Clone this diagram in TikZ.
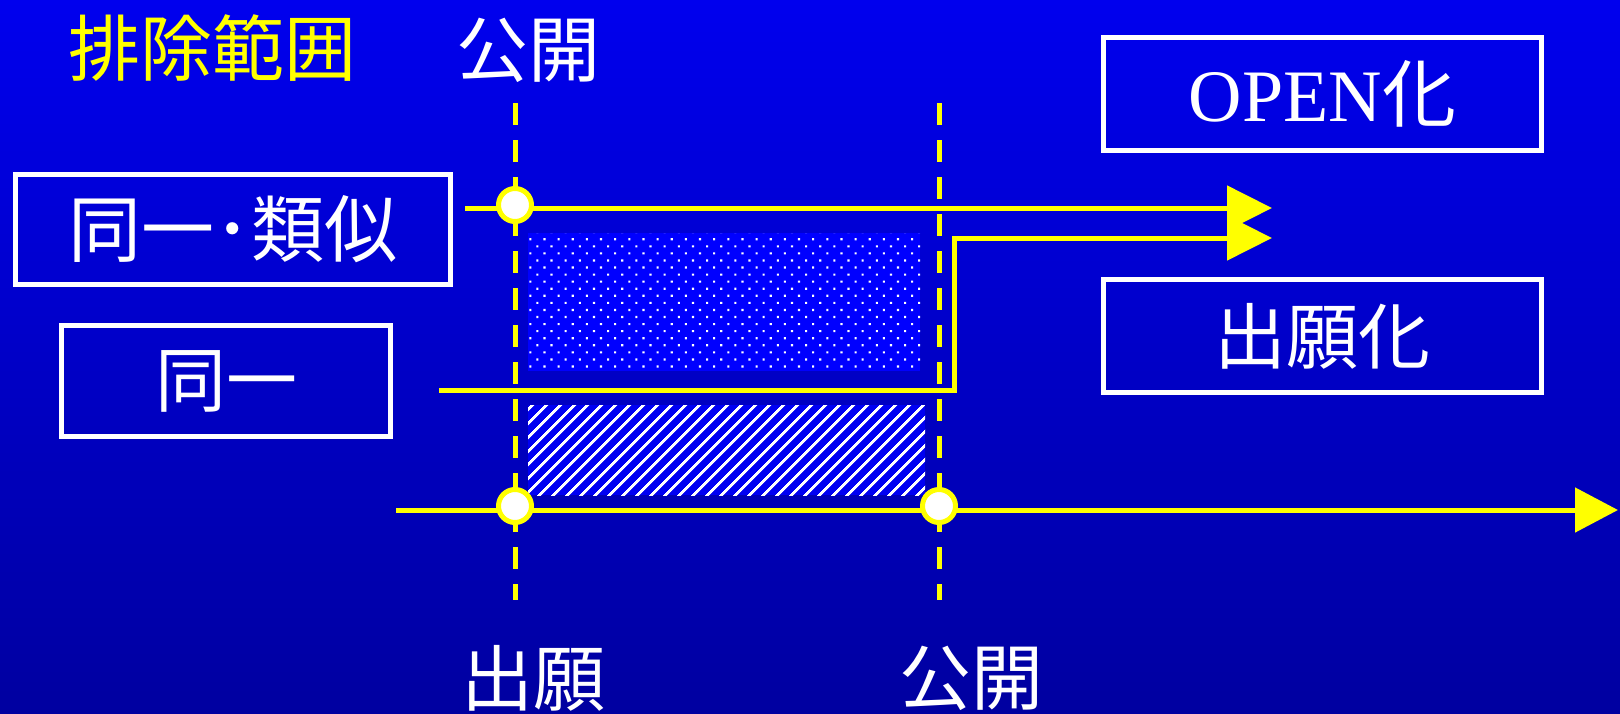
\documentclass[tikz,border=0pt]{standalone}
\usepackage{fontspec}
\setmainfont{Liberation Serif}
\newfontfamily\cjk{Noto Sans CJK JP}
\usetikzlibrary{arrows.meta,patterns.meta}
\definecolor{bgtop}{RGB}{0,0,238}
\definecolor{bgbot}{RGB}{0,0,160}
\definecolor{ylw}{RGB}{255,255,0}
\begin{document}
\begin{tikzpicture}[x=1pt,y=-1pt,
  wbox/.style={draw=white, line width=5pt, minimum width=438pt, minimum height=113pt, inner sep=0pt, text=white},
  yline/.style={draw=ylw, line width=5pt},
  ydash/.style={draw=ylw, line width=5pt, dash pattern=on 22pt off 15pt},
  ypt/.style={circle, draw=ylw, fill=white, line width=5pt, minimum size=33pt, inner sep=0pt},
  lbl/.style={text=white, inner sep=0pt, font=\cjk\fontsize{72}{84}\selectfont},
  tip/.style={-{Triangle[length=45pt,width=44pt]}}
]
\shade[top color=bgtop, bottom color=bgbot] (0,0) rectangle (1620,713);
\useasboundingbox (0,0) rectangle (1620,713);

% pattern areas
\fill[blue] (528,233) rectangle (920,371);
\fill[pattern={Dots[distance=10pt,radius=1.5pt,angle=45]}, pattern color=white] (528,233) rectangle (920,371);
\fill[blue!95!black] (528,405) rectangle (925,495);
\fill[pattern={Lines[angle=45,distance=10.5pt,line width=3pt]}, pattern color=white] (528,405) rectangle (925,495);

% titles
\node[inner sep=0pt, text=ylw, font=\cjk\fontsize{72}{84}\selectfont] (title) at (212,48) {排除範囲};
\node[lbl] (pubtop) at (528,50) {公開};
\node[lbl] (filing) at (533,678) {出願};
\node[lbl] (pubbot) at (971,678) {公開};

% boxes
\node[wbox, minimum width=435pt, minimum height=110pt, font=\cjk\fontsize{73}{86}\selectfont] (simbox) at (233,229.5) {\raisebox{-5pt}{同一･類似}};
\node[wbox, minimum width=329pt, minimum height=111pt, font=\cjk\fontsize{71}{84}\selectfont] (samebox) at (226,381) {\raisebox{-5pt}{同一}};
\node[wbox, font=\fontsize{74}{86}\selectfont] (openbox) at (1322.5,94) {OPEN{\cjk 化}};
\node[wbox, font=\cjk\fontsize{72}{84}\selectfont] (filebox) at (1322.5,336) {\raisebox{-5pt}{出願化}};

% dashed verticals
\coordinate (d1t) at (515,103);
\coordinate (d1b) at (515,600);
\coordinate (d2t) at (939,103);
\coordinate (d2b) at (939,600);
\draw[ydash] (d1t) -- (d1b);
\draw[ydash] (d2t) -- (d2b);

% arrows
\coordinate (a1s) at (465,208);
\coordinate (a1e) at (1272,208);
\draw[yline, tip, ylw] (a1s) -- (a1e);
\coordinate (a2s) at (439,390);
\coordinate (a2k) at (954,390);
\coordinate (a2u) at (954,238);
\coordinate (a2e) at (1272,238);
\draw[yline, tip, ylw] (a2s) -- (a2k) -- (a2u) -- (a2e);
\coordinate (a3s) at (396,510);
\coordinate (a3e) at (1618,510);
\draw[yline, -{Triangle[length=43pt,width=44pt]}, ylw] (a3s) -- (a3e);

% points
\node[ypt] (p1) at (515,205) {};
\node[ypt] (p2) at (515,506) {};
\node[ypt] (p3) at (939,506) {};
\end{tikzpicture}
\end{document}
